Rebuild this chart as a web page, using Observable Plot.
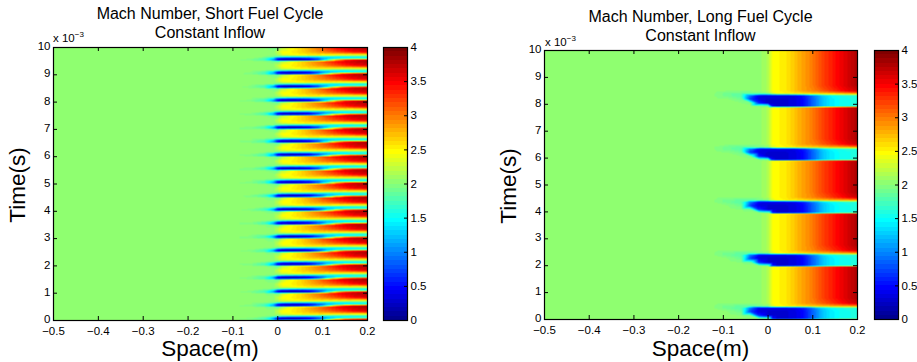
<!DOCTYPE html>
<html><head><meta charset="utf-8">
<script src="https://cdn.jsdelivr.net/npm/d3@7"></script>
<script src="https://cdn.jsdelivr.net/npm/@observablehq/plot@0.6"></script>
<style>
body{margin:0;background:#fff;}
#wrap{position:relative;width:917px;height:362px;overflow:hidden;font-family:"Liberation Sans",Arial,sans-serif;color:#000;background:#fff;}
#wrap svg{position:absolute;top:0;overflow:visible;}
.title{position:absolute;font-size:16px;text-align:center;line-height:19px;white-space:nowrap;transform:translateX(-50%);}
.xlab{position:absolute;font-size:22.5px;line-height:18px;transform:translateX(-50%);white-space:nowrap;}
.ylab{position:absolute;font-size:22.5px;line-height:22.5px;transform:translate(-50%,-50%) rotate(-90deg);white-space:nowrap;}
.exp{position:absolute;font-size:11.5px;line-height:11.5px;white-space:nowrap;}
.exp span{font-size:8px;position:relative;top:-5px;}
</style></head><body><div id="wrap"></div>
<script>
// ---------- tick labels ----------
const xTicks = [-0.5, -0.4, -0.3, -0.2, -0.1, 0, 0.1, 0.2];
const xTickLabels = ["\u22120.5", "\u22120.4", "\u22120.3", "\u22120.2", "\u22120.1", "0", "0.1", "0.2"];
const yTicks = [0, 1, 2, 3, 4, 5, 6, 7, 8, 9, 10];
const cbTicks = [0, 0.5, 1, 1.5, 2, 2.5, 3, 3.5, 4];
const cbLabels = ["0", "0.5", "1", "1.5", "2", "2.5", "3", "3.5", "4"];

// ---------- left panel: short fuel cycle (time in units of 1e-3 s) ----------
const xsL = [-0.5, -0.1, -0.06, -0.03, -0.01, 0, 0.01, 0.03, 0.05, 0.07, 0.09, 0.11, 0.13, 0.15, 0.17, 0.2];
const cycleCentersL = [-0.43, 0.07, 0.57, 1.07, 1.57, 2.07, 2.57, 3.07, 3.57, 4.07, 4.57, 5.07, 5.57, 6.07, 6.57, 7.07, 7.57, 8.07, 8.57, 9.07, 9.57, 10.07];
const offsetsL = [-0.22, -0.08, -0.03, 0.03, 0.09, 0.15, 0.24];
const machL = [
  [2.03,2.03,2.03,2.03,2.03,2.2,2.45,2.5,2.6,2.75,2.9,3.05,3.2,3.35,3.5,3.6],
  [2.03,2.03,2.03,2.0,1.95,1.9,2.2,2.45,2.6,2.8,3.0,3.25,3.45,3.6,3.7,3.8],
  [2.03,2.03,1.95,1.75,1.1,0.45,0.3,0.25,0.3,0.45,0.85,1.7,2.7,3.3,3.55,3.7],
  [2.03,2.03,2.0,1.8,1.3,0.55,0.35,0.3,0.35,0.5,0.8,1.15,1.35,1.45,1.5,1.55],
  [2.03,2.03,2.03,2.0,1.95,1.8,1.7,1.6,1.55,1.5,1.5,1.5,1.5,1.5,1.55,1.6],
  [2.03,2.03,2.03,2.03,2.03,2.1,2.3,2.4,2.45,2.5,2.5,2.45,2.4,2.35,2.3,2.3],
  [2.03,2.03,2.03,2.03,2.03,2.2,2.45,2.5,2.6,2.7,2.8,2.9,3.0,3.1,3.2,3.3]
];

// ---------- right panel: long fuel cycle ----------
const xsR = [-0.5, -0.12, -0.09, -0.06, -0.04, -0.02, 0, 0.01, 0.02, 0.04, 0.06, 0.08, 0.1, 0.12, 0.14, 0.16, 0.18, 0.2];
const cycleStartsR = [0.0, 1.97, 3.94, 5.91, 7.9];
const offsetsR = [-0.1, -0.02, 0.03, 0.15, 0.3, 0.42, 0.5, 0.6, 0.8];
const baseR = [2.03,2.03,2.03,2.03,2.03,2.03,2.15,2.45,2.48,2.55,2.7,2.85,3.0,3.2,3.35,3.5,3.65,3.8];
const machR = [
  baseR,
  baseR,
  [2.03,2.03,2.03,2.03,2.03,2.0,1.9,0.5,0.3,0.3,0.35,0.5,0.85,1.2,1.4,1.5,1.55,1.6],
  [2.03,2.03,2.03,2.0,1.95,0.6,0.3,0.3,0.3,0.3,0.35,0.5,0.85,1.2,1.4,1.5,1.55,1.6],
  [2.03,2.03,2.0,1.9,0.7,0.35,0.3,0.3,0.3,0.3,0.35,0.5,0.85,1.2,1.4,1.5,1.55,1.6],
  [2.03,2.0,1.9,1.8,0.9,0.4,0.35,0.35,0.35,0.35,0.4,0.55,0.9,1.25,1.45,1.55,1.6,1.6],
  [2.03,2.0,1.9,1.85,1.85,1.9,2.0,2.3,2.45,2.5,2.55,2.6,2.65,2.7,2.75,2.8,2.85,2.9],
  [2.03,2.03,2.0,2.0,2.0,2.03,2.15,2.45,2.48,2.55,2.7,2.85,2.95,3.1,3.25,3.4,3.55,3.65],
  baseR
];
const edgeTimesR = [-0.3, 10.3];

// ---------- MATLAB jet(64) colormap ----------
function jet64() {
  const m = 64, n = 16, u = [];
  for (let i = 1; i <= n; i++) u.push(i / n);
  for (let i = 0; i < n - 1; i++) u.push(1);
  for (let i = n; i >= 1; i--) u.push(i / n);
  const R = new Array(m).fill(0), G = new Array(m).fill(0), B = new Array(m).fill(0);
  u.forEach((v, k) => {
    const g = 8 + k + 1, r = g + n, b = g - n;
    if (r >= 1 && r <= m) R[r - 1] = v;
    if (g >= 1 && g <= m) G[g - 1] = v;
    if (b >= 1 && b <= m) B[b - 1] = v;
  });
  return R.map((_, i) => d3.rgb(R[i] * 255, G[i] * 255, B[i] * 255).formatHex());
}
const jetColors = jet64();
const levels = d3.range(64);
const thresholds = d3.range(1, 64).map(i => i * 4 / 64);

// ---------- build tables ----------
function table(xs, anchors, offsets, rows, edges, edgeRow) {
  const out = [];
  anchors.forEach(a => offsets.forEach((o, j) => xs.forEach((x, i) => out.push({x, t: a + o, m: rows[j][i]}))));
  (edges || []).forEach(t => xs.forEach((x, i) => out.push({x, t, m: edgeRow[i]})));
  return out;
}
const dataL = table(xsL, cycleCentersL, offsetsL, machL);
const dataR = table(xsR, cycleStartsR, offsetsR, machR, edgeTimesR, baseR);

const font = "Liberation Sans, Arial, sans-serif";

function heat(data, left, width, mt, mb, ml, mr) {
  const H = 362 - mt - mb, W = width - ml - mr;
  const svg = Plot.plot({
    width, height: 362, marginTop: mt, marginBottom: mb, marginLeft: ml, marginRight: mr,
    style: {fontFamily: font, fontSize: "11.5px", background: "transparent", color: "black"},
    x: {domain: [-0.5, 0.2]},
    y: {domain: [0, 10]},
    color: {type: "threshold", domain: thresholds, range: jetColors},
    marks: [
      Plot.raster(data, {x: "x", y: "t", fill: "m", interpolate: "barycentric"}),
      Plot.tickX(xTicks, {x: d => d, insetTop: H - 4, stroke: "black"}),
      Plot.tickX(xTicks, {x: d => d, insetBottom: H - 4, stroke: "black"}),
      Plot.tickY(yTicks, {y: d => d, insetRight: W - 4, stroke: "black"}),
      Plot.tickY(yTicks, {y: d => d, insetLeft: W - 4, stroke: "black"}),
      Plot.frame({stroke: "black", strokeWidth: 1.2}),
      Plot.axisX({ticks: xTicks, tickSize: 0, tickPadding: 6, label: null, tickFormat: d => xTickLabels[xTicks.indexOf(d)]}),
      Plot.axisY({ticks: yTicks, tickSize: 0, tickPadding: 3, dy: -1, label: null})
    ]
  });
  svg.style.left = left + "px";
  return svg;
}

function colorbar(left, width, mt, mb, ml, mr) {
  const W = width - ml - mr;
  const svg = Plot.plot({
    width, height: 362, marginTop: mt, marginBottom: mb, marginLeft: ml, marginRight: mr,
    style: {fontFamily: font, fontSize: "11.5px", background: "transparent", color: "black"},
    x: {domain: [0, 1], axis: null},
    y: {domain: [0, 4]},
    marks: [
      Plot.rect(levels, {x1: 0, x2: 1, y1: d => d * 4 / 64, y2: d => (d + 1) * 4 / 64, fill: d => jetColors[d], shapeRendering: "crispEdges"}),
      Plot.tickY(cbTicks, {y: d => d, insetLeft: W - 3, stroke: "black"}),
      Plot.frame({stroke: "black", strokeWidth: 1.2}),
      Plot.axisY({anchor: "right", ticks: cbTicks, tickSize: 0, tickPadding: 3, label: null, tickFormat: d => cbLabels[cbTicks.indexOf(d)]})
    ]
  });
  svg.style.left = left + "px";
  return svg;
}

const wrap = document.getElementById("wrap");
wrap.appendChild(heat(dataL, 0, 375, 47, 42, 53, 8));
wrap.appendChild(colorbar(375, 60, 47, 42, 8, 28));
wrap.appendChild(heat(dataR, 490, 375, 50, 43, 54, 8));
wrap.appendChild(colorbar(866, 51, 50, 43, 8, 19));

function addDiv(cls, html, left, top) {
  const d = document.createElement("div");
  d.className = cls; d.innerHTML = html;
  d.style.left = left + "px"; d.style.top = top + "px";
  wrap.appendChild(d);
}
addDiv("title", "Mach Number, Short Fuel Cycle<br>Constant Inflow", 210, 4);
addDiv("title", "Mach Number, Long Fuel Cycle<br>Constant Inflow", 700.5, 7);
addDiv("xlab", "Space(m)", 210, 339.5);
addDiv("xlab", "Space(m)", 700.5, 339.5);
addDiv("ylab", "Time(s)", 18, 185);
addDiv("ylab", "Time(s)", 509, 186);
addDiv("exp", "x 10<span>\u22123</span>", 53, 33);
addDiv("exp", "x 10<span>\u22123</span>", 545, 37);
</script></body></html>
